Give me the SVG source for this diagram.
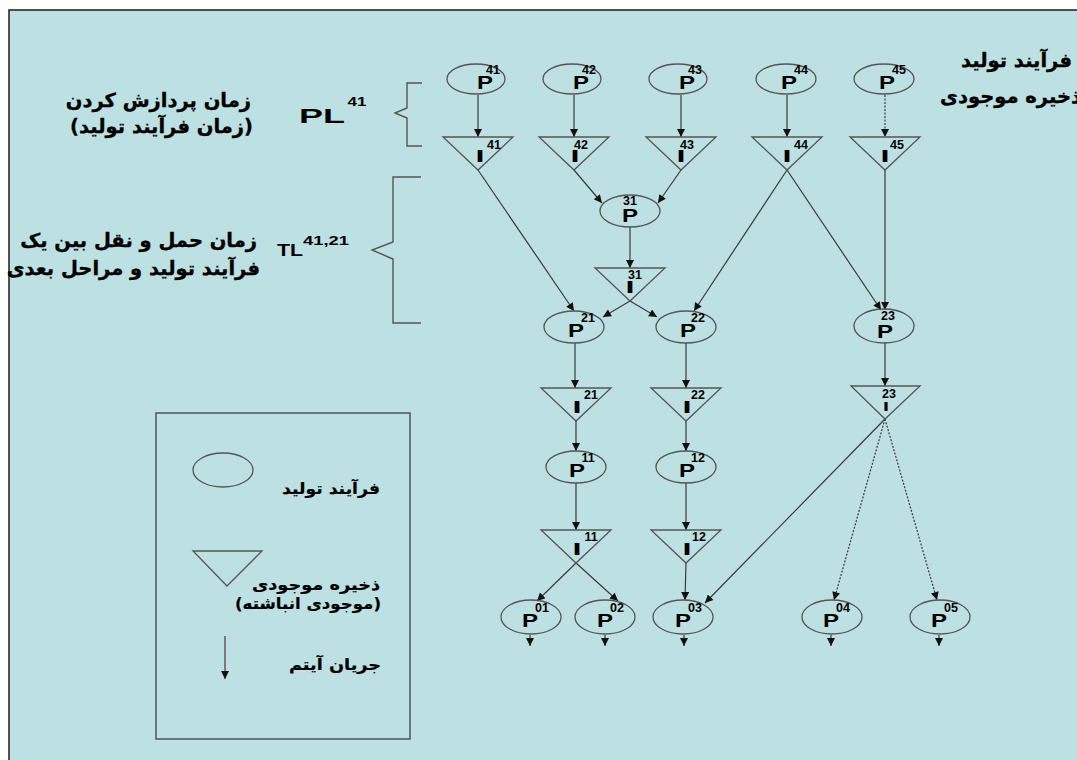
<svg xmlns="http://www.w3.org/2000/svg" width="1077" height="760" viewBox="0 0 1077 760">
  <style>
    .frame { fill: #bde0e3; stroke: #2a2a2a; stroke-width: 1.6; }
    .box { fill: none; stroke: #505060; stroke-width: 1.5; }
    .brace { fill: none; stroke: #555; stroke-width: 1.4; }
    .shape { fill: none; stroke: #555; stroke-width: 1.3; }
    .lbl { font-family: "Liberation Sans", Arial, sans-serif; font-weight: bold; fill: #000; text-anchor: middle; }
    .big { font-size: 18px; }
    .sup { font-size: 12.5px; }
    .fa { font-family: "DejaVu Sans", sans-serif; font-weight: bold; font-size: 19.5px; fill: #000; stroke: #000; stroke-width: 0.35; text-anchor: end; }
    .fs { font-family: "DejaVu Sans", sans-serif; font-weight: bold; font-size: 16px; fill: #000; stroke: #000; stroke-width: 0.2; text-anchor: end; }
    .conn line { stroke: #3a3a3a; stroke-width: 1.2; marker-end: url(#ah); }
    .conn line.dot { stroke-dasharray: 2 1.5; }
  </style>
  <defs>
    <marker id="ah" viewBox="0 0 10 10" refX="10" refY="5" markerWidth="9" markerHeight="8" markerUnits="userSpaceOnUse" orient="auto">
      <path d="M0,0 L10,5 L0,10 z" fill="#111"/>
    </marker>
  </defs>

  <!-- page background -->
  <rect x="0" y="0" width="1077" height="760" fill="#ffffff"/>
  <rect class="frame" x="9" y="10" width="1090" height="770"/>

  <!-- left-hand notes -->
  <g id="note-pl">
    <text class="fa" x="251" y="107">زمان پردازش کردن</text>
    <text class="fa" x="253" y="133">(زمان فرآیند تولید)</text>
    <text class="lbl" x="322" y="123" font-size="20" textLength="46" lengthAdjust="spacingAndGlyphs">PL</text>
    <text class="lbl" x="357" y="106" font-size="13" textLength="19" lengthAdjust="spacingAndGlyphs">41</text>
    <path class="brace" d="M422,83 H407 V108 L395,113 L407,118 V146 H422"/>
  </g>
  <g id="note-tl">
    <text class="fa" x="257" y="247">زمان حمل و نقل بین یک</text>
    <text class="fa" x="260" y="275">فرآیند تولید و مراحل بعدی</text>
    <text class="lbl" x="290" y="256" font-size="16" textLength="26" lengthAdjust="spacingAndGlyphs">TL</text>
    <text class="lbl" x="326" y="245" font-size="13" textLength="46" lengthAdjust="spacingAndGlyphs">41,21</text>
    <path class="brace" d="M421,177 H393 V242 L372,250 L393,259 V323 H421"/>
  </g>

  <!-- top-right caption -->
  <g id="caption">
    <text class="fa" x="1072" y="67">فرآیند تولید</text>
    <text class="fa" x="1081" y="103">ذخیره موجودی</text>
  </g>

  <!-- legend -->
  <g id="legend">
    <rect class="box" x="156" y="413" width="254" height="326"/>
    <ellipse class="shape" cx="223" cy="470" rx="30" ry="17"/>
    <text class="fs" x="380" y="494" textLength="98" lengthAdjust="spacingAndGlyphs">فرآیند تولید</text>
    <path class="shape" d="M193,551 H262 L227,586 z"/>
    <text class="fs" x="380" y="590" textLength="128" lengthAdjust="spacingAndGlyphs">ذخیره موجودی</text>
    <text class="fs" x="381" y="609" textLength="146" lengthAdjust="spacingAndGlyphs">(موجودی انباشته)</text>
    <line x1="225" y1="636" x2="225" y2="679" stroke="#6b3a44" stroke-width="1.3" marker-end="url(#ah)"/>
    <text class="fs" x="381" y="670" textLength="92" lengthAdjust="spacingAndGlyphs">جریان آیتم</text>
  </g>

  <!-- connectors -->
  <g id="connectors" class="conn">
    <line x1="478" y1="95" x2="478" y2="137"/>
    <line x1="574" y1="95" x2="574" y2="137"/>
    <line x1="681" y1="95" x2="681" y2="137"/>
    <line x1="787" y1="95" x2="787" y2="137"/>
    <line class="dot" x1="885" y1="95" x2="885" y2="137"/>

    <line x1="574" y1="170" x2="602" y2="203"/>
    <line x1="681" y1="170" x2="658" y2="203"/>
    <line x1="630" y1="227" x2="630" y2="268"/>

    <line x1="478" y1="170" x2="574" y2="311"/>
    <line x1="630" y1="301" x2="603" y2="317"/>
    <line x1="630" y1="301" x2="657" y2="317"/>
    <line x1="787" y1="170" x2="694" y2="311"/>
    <line x1="787" y1="170" x2="881" y2="310"/>
    <line x1="885" y1="170" x2="885" y2="310"/>

    <line x1="575" y1="343" x2="575" y2="388"/>
    <line x1="686" y1="343" x2="686" y2="388"/>
    <line x1="885" y1="342" x2="885" y2="386"/>

    <line x1="576" y1="421" x2="576" y2="451"/>
    <line x1="686" y1="421" x2="686" y2="451"/>

    <line x1="576" y1="483" x2="576" y2="530"/>
    <line x1="686" y1="483" x2="686" y2="530"/>

    <line x1="576" y1="563" x2="537" y2="601"/>
    <line x1="576" y1="563" x2="618" y2="601"/>
    <line x1="686" y1="563" x2="685" y2="600"/>
    <line x1="885" y1="419" x2="705" y2="603"/>
    <line class="dot" x1="885" y1="419" x2="834" y2="600"/>
    <line class="dot" x1="885" y1="419" x2="937" y2="600"/>

    <line x1="530" y1="635" x2="530" y2="646"/>
    <line x1="605" y1="635" x2="605" y2="646"/>
    <line x1="684" y1="635" x2="684" y2="646"/>
    <line x1="831" y1="635" x2="831" y2="646"/>
    <line x1="939" y1="635" x2="939" y2="646"/>
  </g>

  <!-- production processes (P) -->
  <g id="p41"><ellipse class="shape" cx="476" cy="79" rx="29" ry="15"/><text class="lbl big" x="485" y="89" textLength="16" lengthAdjust="spacingAndGlyphs">P</text><text class="lbl sup" x="493" y="74">41</text></g>
  <g id="p42"><ellipse class="shape" cx="572" cy="79" rx="29" ry="15"/><text class="lbl big" x="581" y="89" textLength="16" lengthAdjust="spacingAndGlyphs">P</text><text class="lbl sup" x="589" y="74">42</text></g>
  <g id="p43"><ellipse class="shape" cx="678" cy="79" rx="29" ry="15"/><text class="lbl big" x="687" y="89" textLength="16" lengthAdjust="spacingAndGlyphs">P</text><text class="lbl sup" x="695" y="74">43</text></g>
  <g id="p44"><ellipse class="shape" cx="786" cy="79" rx="30" ry="15"/><text class="lbl big" x="789" y="89" textLength="16" lengthAdjust="spacingAndGlyphs">P</text><text class="lbl sup" x="801" y="74">44</text></g>
  <g id="p45"><ellipse class="shape" cx="884" cy="79" rx="30" ry="15"/><text class="lbl big" x="887" y="89" textLength="16" lengthAdjust="spacingAndGlyphs">P</text><text class="lbl sup" x="899" y="74">45</text></g>

  <g id="p31"><ellipse class="shape" cx="630" cy="211" rx="30" ry="16"/><text class="lbl big" x="630" y="222" textLength="16" lengthAdjust="spacingAndGlyphs">P</text><text class="lbl sup" x="630" y="205">31</text></g>

  <g id="p21"><ellipse class="shape" cx="574" cy="327" rx="30" ry="16"/><text class="lbl big" x="576" y="337" textLength="16" lengthAdjust="spacingAndGlyphs">P</text><text class="lbl sup" x="588" y="322">21</text></g>
  <g id="p22"><ellipse class="shape" cx="686" cy="327" rx="30" ry="16"/><text class="lbl big" x="688" y="337" textLength="16" lengthAdjust="spacingAndGlyphs">P</text><text class="lbl sup" x="698" y="322">22</text></g>
  <g id="p23"><ellipse class="shape" cx="884" cy="326" rx="30" ry="17"/><text class="lbl big" x="885" y="338" textLength="16" lengthAdjust="spacingAndGlyphs">P</text><text class="lbl sup" x="888" y="320">23</text></g>

  <g id="p11"><ellipse class="shape" cx="576" cy="467" rx="30" ry="16"/><text class="lbl big" x="577" y="477" textLength="16" lengthAdjust="spacingAndGlyphs">P</text><text class="lbl sup" x="588" y="462">11</text></g>
  <g id="p12"><ellipse class="shape" cx="686" cy="467" rx="30" ry="16"/><text class="lbl big" x="687" y="477" textLength="16" lengthAdjust="spacingAndGlyphs">P</text><text class="lbl sup" x="698" y="462">12</text></g>

  <g id="p01"><ellipse class="shape" cx="531" cy="617" rx="30" ry="17"/><text class="lbl big" x="530" y="627" textLength="16" lengthAdjust="spacingAndGlyphs">P</text><text class="lbl sup" x="542" y="612">01</text></g>
  <g id="p02"><ellipse class="shape" cx="605" cy="617" rx="30" ry="17"/><text class="lbl big" x="605" y="627" textLength="16" lengthAdjust="spacingAndGlyphs">P</text><text class="lbl sup" x="617" y="612">02</text></g>
  <g id="p03"><ellipse class="shape" cx="683" cy="617" rx="30" ry="17"/><text class="lbl big" x="683" y="627" textLength="16" lengthAdjust="spacingAndGlyphs">P</text><text class="lbl sup" x="695" y="612">03</text></g>
  <g id="p04"><ellipse class="shape" cx="832" cy="617" rx="30" ry="17"/><text class="lbl big" x="831" y="627" textLength="16" lengthAdjust="spacingAndGlyphs">P</text><text class="lbl sup" x="843" y="612">04</text></g>
  <g id="p05"><ellipse class="shape" cx="940" cy="617" rx="30" ry="17"/><text class="lbl big" x="939" y="627" textLength="16" lengthAdjust="spacingAndGlyphs">P</text><text class="lbl sup" x="951" y="612">05</text></g>

  <!-- inventory stocks (I) -->
  <g id="i41"><path class="shape" d="M443,137 H513 L478,170 z"/><text class="lbl" x="480" y="162" font-size="16" textLength="9" lengthAdjust="spacingAndGlyphs">I</text><text class="lbl sup" x="494" y="149">41</text></g>
  <g id="i42"><path class="shape" d="M539,137 H609 L574,170 z"/><text class="lbl" x="575" y="162" font-size="16" textLength="9" lengthAdjust="spacingAndGlyphs">I</text><text class="lbl sup" x="581" y="149">42</text></g>
  <g id="i43"><path class="shape" d="M646,137 H716 L681,170 z"/><text class="lbl" x="681" y="162" font-size="16" textLength="9" lengthAdjust="spacingAndGlyphs">I</text><text class="lbl sup" x="687" y="149">43</text></g>
  <g id="i44"><path class="shape" d="M752,137 H822 L787,170 z"/><text class="lbl" x="787" y="162" font-size="16" textLength="9" lengthAdjust="spacingAndGlyphs">I</text><text class="lbl sup" x="801" y="149">44</text></g>
  <g id="i45"><path class="shape" d="M850,137 H920 L885,170 z"/><text class="lbl" x="885" y="162" font-size="16" textLength="9" lengthAdjust="spacingAndGlyphs">I</text><text class="lbl sup" x="897" y="149">45</text></g>

  <g id="i31"><path class="shape" d="M595,268 H665 L630,301 z"/><text class="lbl" x="630" y="293" font-size="16" textLength="9" lengthAdjust="spacingAndGlyphs">I</text><text class="lbl sup" x="635" y="279">31</text></g>

  <g id="i21"><path class="shape" d="M541,388 H611 L576,421 z"/><text class="lbl" x="577" y="413" font-size="16" textLength="9" lengthAdjust="spacingAndGlyphs">I</text><text class="lbl sup" x="591" y="399">21</text></g>
  <g id="i22"><path class="shape" d="M651,388 H721 L686,421 z"/><text class="lbl" x="687" y="413" font-size="16" textLength="9" lengthAdjust="spacingAndGlyphs">I</text><text class="lbl sup" x="698" y="399">22</text></g>
  <g id="i23"><path class="shape" d="M851,386 H920 L885,419 z"/><text class="lbl" x="886" y="411" font-size="12" textLength="6" lengthAdjust="spacingAndGlyphs">I</text><text class="lbl sup" x="889" y="398">23</text></g>

  <g id="i11"><path class="shape" d="M541,530 H611 L576,563 z"/><text class="lbl" x="577" y="555" font-size="16" textLength="9" lengthAdjust="spacingAndGlyphs">I</text><text class="lbl sup" x="591" y="541">11</text></g>
  <g id="i12"><path class="shape" d="M651,530 H721 L686,563 z"/><text class="lbl" x="687" y="555" font-size="16" textLength="9" lengthAdjust="spacingAndGlyphs">I</text><text class="lbl sup" x="699" y="541">12</text></g>
</svg>
